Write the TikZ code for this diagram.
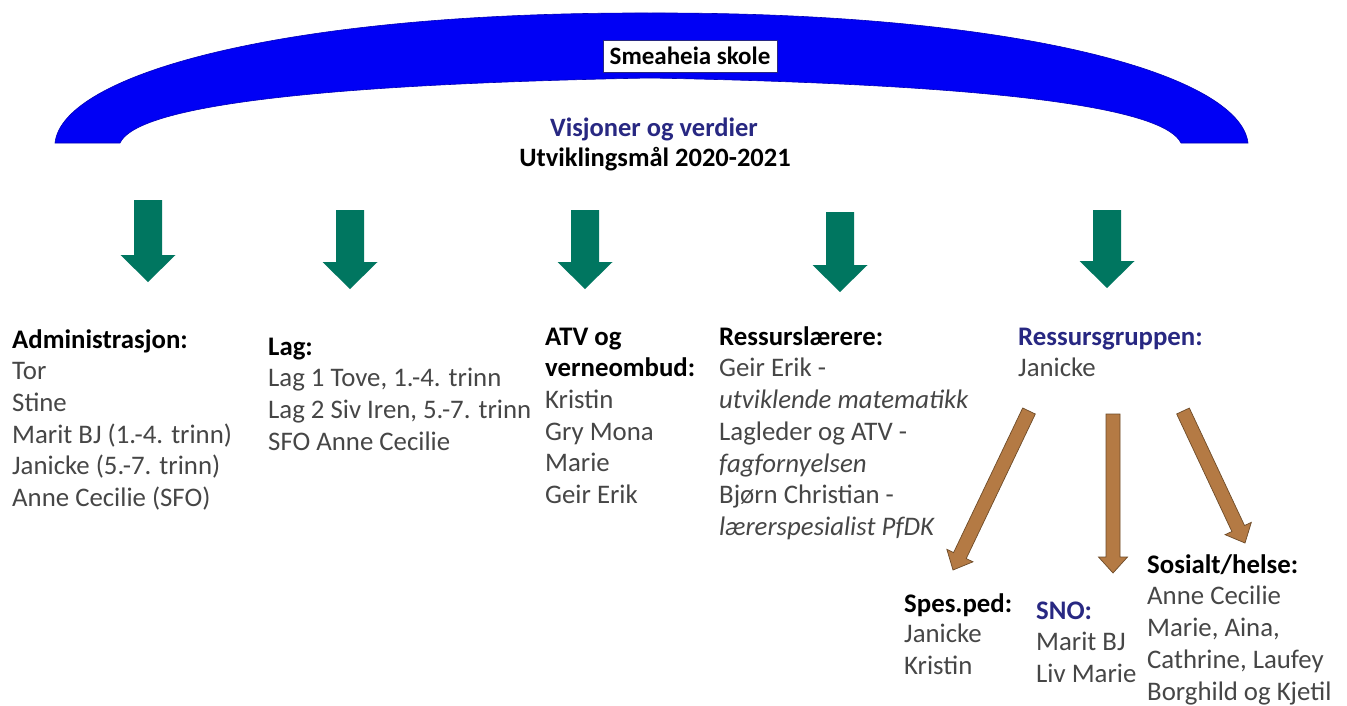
\documentclass[tikz,border=0pt]{standalone}
\usepackage{fontspec}
\setmainfont{Carlito}
\usetikzlibrary{calc}
\definecolor{arcblue}{RGB}{0,0,245}
\definecolor{navytxt}{RGB}{40,40,130}
\definecolor{greytxt}{RGB}{70,70,70}
\definecolor{greenarr}{RGB}{0,118,96}
\definecolor{brownarr}{RGB}{180,122,68}
\definecolor{brownedge}{RGB}{110,75,40}
\newcommand{\blockarrow}[6]{%
  \coordinate (ba-h) at ($(#3)!#6!(#2)$);
  \filldraw[#1] ($(#2)!#4!90:(#3)$) -- ($(ba-h)!#4!90:(#3)$) -- ($(ba-h)!#5!90:(#3)$) -- (#3)
    -- ($(ba-h)!#5!-90:(#3)$) -- ($(ba-h)!#4!-90:(#3)$) -- ($(#2)!#4!-90:(#3)$) -- cycle;}
\tikzset{
  txt/.style={anchor=north west, align=left, inner sep=0pt, text=greytxt,
    font=\fontsize{26.8}{31.7}\selectfont},
  greenstyle/.style={fill=greenarr, draw=none},
  brownstyle/.style={fill=brownarr, draw=brownedge, line width=0.7pt},
}
\newcommand{\hdl}[1]{\strut\textbf{\color{black}#1}}
\begin{document}
\begin{tikzpicture}[x=1pt,y=-1pt]
\useasboundingbox[fill=white] (0,0) rectangle (1347,705);

% arc
\fill[arcblue, draw=arcblue!75!black, line width=0.6pt] (55,143) .. controls (62,75) and (280,12) .. (650,13)
  .. controls (1020,12) and (1240,75) .. (1248,143) -- (1181,143)
  .. controls (1165,110) and (1020,85) .. (650,78)
  .. controls (280,85) and (135,110) .. (120,143) -- cycle;

\node[fill=white, draw=navytxt, line width=0.6pt, minimum width=174pt, minimum height=32pt, inner sep=0pt,
  font=\fontsize{25}{30}\selectfont\bfseries] (school) at (690,56) {Smeaheia skole};
\node[anchor=base, inner sep=0pt, text=navytxt, font=\fontsize{26.5}{31.7}\selectfont\bfseries] (vis) at (654,136) {Visjoner og verdier};
\node[anchor=base, inner sep=0pt, text=black, font=\fontsize{26.5}{31.7}\selectfont\bfseries] (utv) at (655,166) {Utviklingsmål 2020-2021};

% green arrows
\coordinate (g1t) at (148,200); \coordinate (g1p) at (148,282);
\coordinate (g2t) at (350,210); \coordinate (g2p) at (350,289);
\coordinate (g3t) at (585,210); \coordinate (g3p) at (585,289);
\coordinate (g4t) at (840,212); \coordinate (g4p) at (840,292);
\coordinate (g5t) at (1107,210); \coordinate (g5p) at (1107,288);
\foreach \i in {1,...,5}{\blockarrow{greenstyle}{g\i t}{g\i p}{14pt}{27.5pt}{27pt}}

% text columns
\node[txt] (adm) at (12,325.8) {\hdl{Administrasjon:}\\Tor\\Stine\\Marit BJ (1.-4. trinn)\\Janicke (5.-7. trinn)\\Anne Cecilie (SFO)};
\node[txt] (lag) at (268,332.8) {\hdl{Lag:}\\Lag 1 Tove, 1.-4. trinn\\Lag 2 Siv Iren, 5.-7. trinn\\SFO Anne Cecilie};
\node[txt] (atv) at (545,322.8) {\hdl{ATV og}\\\textbf{\color{black}verneombud:}\\Kristin\\Gry Mona\\Marie\\Geir Erik};
\node[txt] (res) at (719,322.8) {\hdl{Ressurslærere:}\\Geir Erik -\\\textit{utviklende matematikk}\\Lagleder og ATV -\\\textit{fagfornyelsen}\\Bjørn Christian -\\\textit{lærerspesialist PfDK}};
\node[txt] (rg) at (1018,322.8) {\strut\textbf{\color{navytxt}Ressursgruppen:}\\Janicke};

% brown arrows
\coordinate (b1t) at (1029,411); \coordinate (b1p) at (953,570);
\coordinate (b2t) at (1113,414); \coordinate (b2p) at (1113,573);
\coordinate (b3t) at (1183,411); \coordinate (b3p) at (1245,543);
\foreach \i in {1,2,3}{\blockarrow{brownstyle}{b\i t}{b\i p}{7pt}{14.5pt}{16pt}}

% bottom columns
\node[txt] (spes) at (904,589.8) {\hdl{Spes.ped:}\\[-1pt]Janicke\\Kristin};
\node[txt] (sno) at (1036,596.8) {\strut\textbf{\color{navytxt}SNO:}\\Marit BJ\\Liv Marie};
\node[txt] (sos) at (1147,550.8) {\hdl{Sosialt/helse:}\\Anne Cecilie\\Marie, Aina,\\Cathrine, Laufey\\Borghild og Kjetil};
\end{tikzpicture}
\end{document}
